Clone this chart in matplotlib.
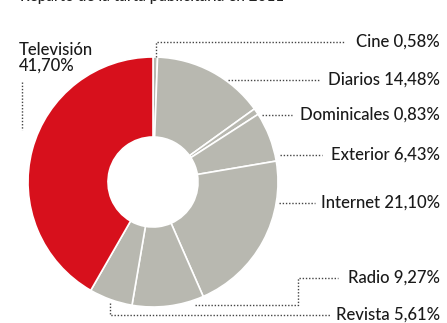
import matplotlib.pyplot as plt

labels = ["Cine", "Diarios", "Dominicales", "Exterior", "Internet", "Radio", "Revista", "Televisión"]
values = [0.58, 14.48, 0.83, 6.43, 21.10, 9.27, 5.61, 41.70]
value_text = ["0,58%", "14,48%", "0,83%", "6,43%", "21,10%", "9,27%", "5,61%", "41,70%"]
title = "Reparto de la tarta publicitaria en 2011"

red = "#d7101c"
grey = "#b8b8b0"
colors = [grey] * 7 + [red]

plt.rcParams['font.family'] = ['Lato', 'DejaVu Sans']

W, H = 447, 323
fig = plt.figure(figsize=(W / 100, H / 100), dpi=100)
ax = fig.add_axes([0, 0, 1, 1])

def py(y):
    return H - y

cx, cy, r = 153, 182, 125
ax.pie(values, colors=colors, startangle=90, counterclock=False,
       center=(cx, py(cy)), radius=r, frame=True,
       wedgeprops=dict(width=r * 0.64, edgecolor='white', linewidth=1.2))
ax.set_xlim(0, W)
ax.set_ylim(0, H)
ax.set_aspect('equal')
ax.axis('off')

# title, cut off at top like the source
ax.text(20, py(-3), title, fontsize=11, color='#222222', va='center', ha='left',
        fontweight='medium')

dot = dict(color='#444444', lw=1.0, ls=(0, (1, 1.3)))
fs = 12
tc = '#1a1a1a'
tx = 440

def lab(i, y):
    ax.text(tx, py(y), f"{labels[i]} {value_text[i]}", fontsize=fs, ha='right',
            va='center', color=tc, fontweight='medium')

# Cine
ax.plot([156, 156, 345], [py(57), py(42), py(42)], **dot)
lab(0, 42)
# Diarios
ax.plot([228, 320], [py(80), py(80)], **dot)
lab(1, 80)
# Dominicales
ax.plot([262, 292], [py(115), py(115)], **dot)
lab(2, 115)
# Exterior
ax.plot([280, 322], [py(155), py(155)], **dot)
lab(3, 155)
# Internet
ax.plot([279, 315], [py(203), py(203)], **dot)
lab(4, 203)
# Radio
ax.plot([195, 298, 298, 338], [py(305), py(305), py(278), py(278)], **dot)
lab(5, 278)
# Revista
ax.plot([110, 110, 330], [py(303), py(315), py(315)], **dot)
lab(6, 315)
# Televisión
ax.plot([22, 22], [py(82), py(130)], **dot)
ax.text(19, py(58), f"{labels[7]}\n{value_text[7]}", fontsize=fs, ha='left', va='center',
        linespacing=0.95, color=tc, fontweight='medium')

fig.savefig('out.png', dpi=100)
